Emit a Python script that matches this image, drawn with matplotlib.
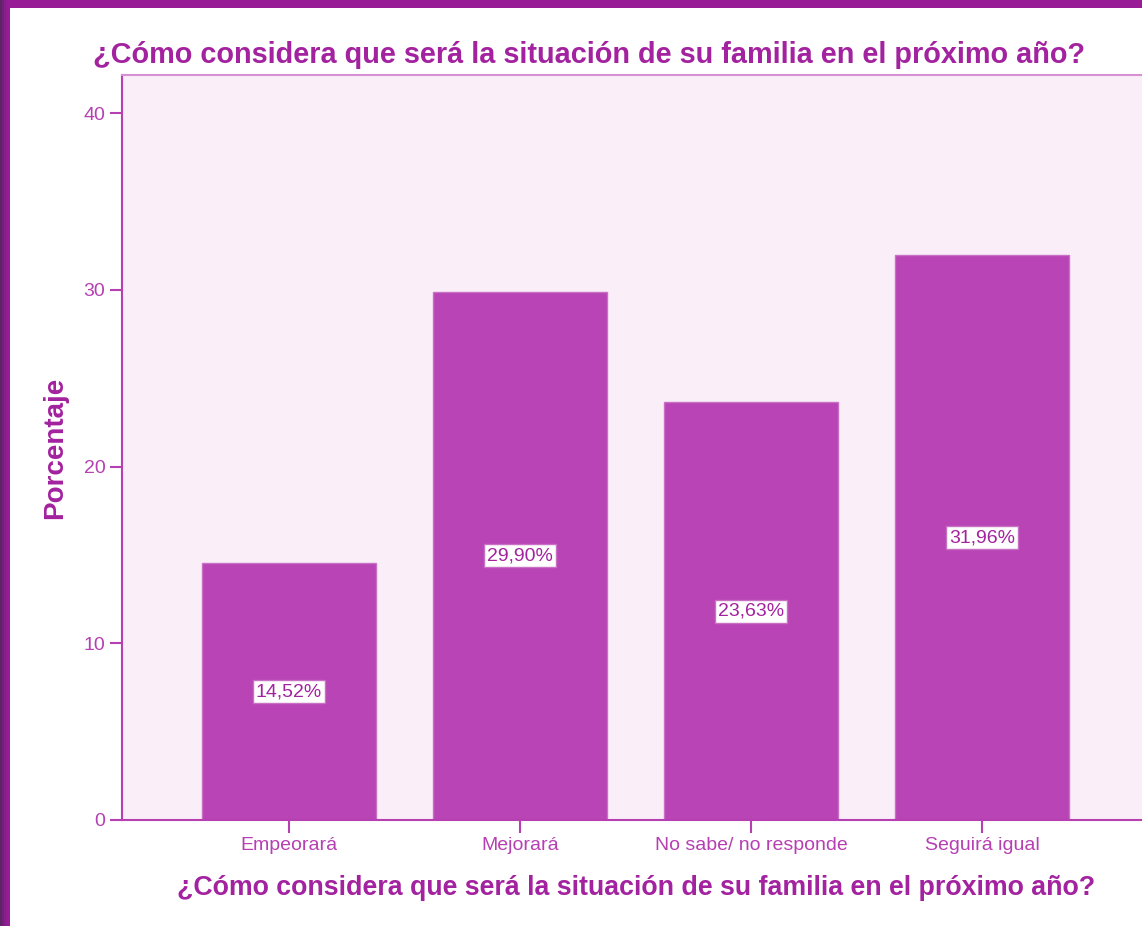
import matplotlib.pyplot as plt
from matplotlib.patches import Rectangle
import numpy as np

plt.rcParams['font.family'] = ['Liberation Sans', 'DejaVu Sans']

categorias = ['Empeorará', 'Mejorará', 'No sabe/ no responde', 'Seguirá igual']
porcentajes = [14.52, 29.90, 23.63, 31.96]
etiquetas = ['14,52%', '29,90%', '23,63%', '31,96%']
titulo = '¿Cómo considera que será la situación de su familia en el próximo año?'

color_barra = '#B944B5'
color_fondo = '#FAEFF9'
color_texto = '#A3229F'
color_eje = '#B63FB2'

fig = plt.figure(figsize=(11.42, 9.26), dpi=100)
fig.patch.set_facecolor('white')

# marco morado a la izquierda y arriba (con un poco de degradado)
tonos = ['#5E2466', '#72207A', '#84208A', '#901E92', '#981C98']
for i, c in enumerate(tonos):
    fig.patches.append(Rectangle((i*2/1142, 0), 2/1142, 1, transform=fig.transFigure,
                                 facecolor=c, edgecolor='none', zorder=0))
fig.patches.append(Rectangle((10/1142, 1 - 8/926), 1, 8/926, transform=fig.transFigure,
                             facecolor='#981C96', edgecolor='none', zorder=0))

ax = fig.add_axes([122/1142, (926-820)/926, (1149-122)/1142, (820-75)/926])
ax.set_facecolor(color_fondo)

x = np.arange(len(categorias))
ax.bar(x, porcentajes, width=0.753, color=color_barra, edgecolor='#C870C4', linewidth=1, zorder=2)

for xi, v, et in zip(x, porcentajes, etiquetas):
    ax.text(xi, v / 2, et, ha='center', va='center', fontsize=14, color=color_texto, zorder=3,
            bbox=dict(boxstyle='square,pad=0.15', facecolor='white', edgecolor='#C870C4', linewidth=1))

ax.set_xlim(-0.723, 3.723)
ax.set_ylim(0, 42.15)
ax.set_xticks(x)
ax.set_xticklabels(categorias)
ax.set_yticks([0, 10, 20, 30, 40])

for s in ['left', 'bottom', 'top']:
    ax.spines[s].set_color(color_eje)
    ax.spines[s].set_linewidth(1.5)
ax.spines['right'].set_visible(False)
ax.spines['top'].set_color('#D890D4')

ax.tick_params(axis='both', colors=color_eje, labelcolor=color_eje, length=9, width=1.5, labelsize=14, pad=3)

ax.set_ylabel('Porcentaje', fontsize=20, fontweight='bold', color=color_texto)
ax.yaxis.set_label_coords((55-122)/1027, 0.5)
ax.yaxis.label.set_va('center')
ax.set_xlabel(titulo, fontsize=19.3, fontweight='bold', color=color_texto)
ax.xaxis.set_label_coords((636.5-122)/1027, (820-888)/745)
ax.xaxis.label.set_va('center')
fig.text(589/1142, 1 - 55/926, titulo, fontsize=20.8, fontweight='bold', color=color_texto,
         ha='center', va='center')

fig.savefig('out.png', dpi=100)
